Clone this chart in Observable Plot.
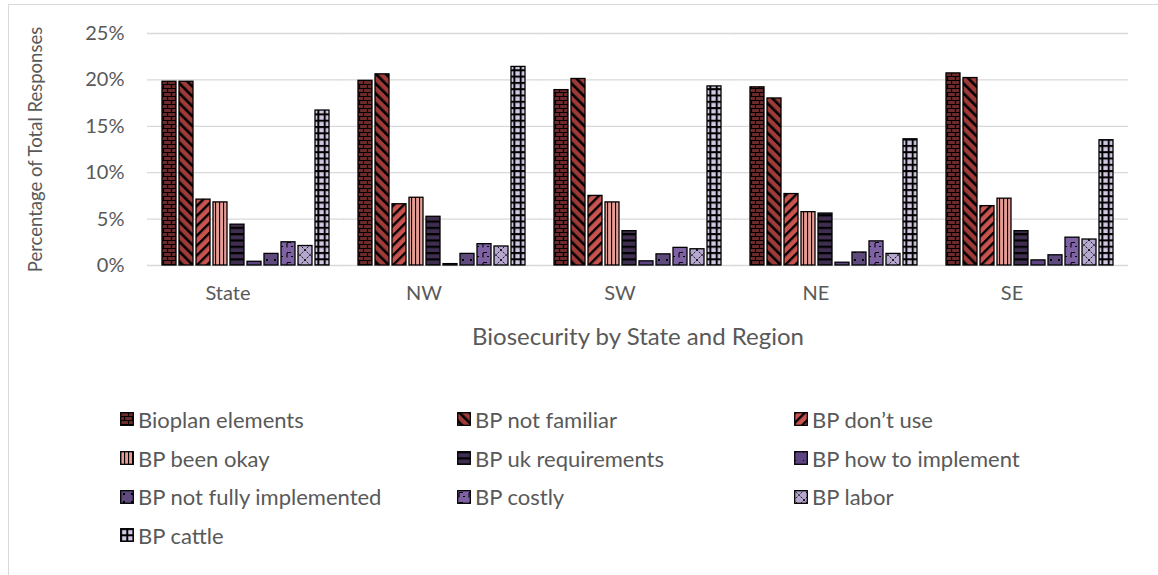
<!DOCTYPE html>
<html><head><meta charset="utf-8">
<script src="https://cdn.jsdelivr.net/npm/d3@7"></script>
<script src="https://cdn.jsdelivr.net/npm/@observablehq/plot@0.6"></script>
<style>
body{margin:0;background:#fff;font-family:Lato,"Open Sans",sans-serif;width:1158px;height:575px;overflow:hidden;position:relative;}
#frame{position:absolute;left:8px;top:4px;width:1160px;height:580px;border-left:1.5px solid #d9d9d9;border-top:1.5px solid #d9d9d9;}
#chart{position:absolute;left:0;top:0;}
#xtitle{position:absolute;top:321px;left:146px;width:984px;text-align:center;font-size:24px;color:#595959;}
#legend{position:absolute;left:120px;top:400px;display:grid;grid-template-columns:337px 337px 337px;grid-auto-rows:38.7px;font-size:22px;color:#595959;}
.item{display:flex;align-items:center;white-space:nowrap;}
.item svg{margin-right:4px;flex:none;}
</style>
</head><body>
<svg width="0" height="0" style="position:absolute">
<defs>
<pattern id="p0" patternUnits="userSpaceOnUse" width="8" height="8">
  <rect width="8" height="8" fill="#6c2a2a"/>
  <path d="M0 0.5H8M0 4.5H8M0.5 0V4.5M4.5 4.5V8" stroke="#000" stroke-width="1.2"/>
</pattern>
<pattern id="p1" patternUnits="userSpaceOnUse" width="7" height="7" patternTransform="rotate(-45)">
  <rect width="7" height="7" fill="#9e3b38"/>
  <rect width="2.6" height="7" fill="#000"/>
</pattern>
<pattern id="p2" patternUnits="userSpaceOnUse" width="7" height="7" patternTransform="rotate(45)">
  <rect width="7" height="7" fill="#c9534f"/>
  <rect width="2.4" height="7" fill="#000"/>
</pattern>
<pattern id="p3" patternUnits="userSpaceOnUse" width="4" height="4">
  <rect width="4" height="4" fill="#e69b95"/>
  <rect width="1.1" height="4" fill="#000"/>
</pattern>
<pattern id="p4" patternUnits="userSpaceOnUse" width="6.3" height="6.3">
  <rect width="6.3" height="6.3" fill="#3f2e4f"/>
  <rect width="6.3" height="2.2" fill="#000"/>
</pattern>
<pattern id="p5" patternUnits="userSpaceOnUse" width="8" height="8">
  <rect width="8" height="8" fill="#5c4580"/>
  <rect x="1" y="1" width="1" height="1" fill="#000"/>
</pattern>
<pattern id="p6" patternUnits="userSpaceOnUse" width="8" height="8">
  <rect width="8" height="8" fill="#5f4a7e"/>
  <rect x="3" y="3" width="2" height="2" fill="#000"/>
</pattern>
<pattern id="p7" patternUnits="userSpaceOnUse" width="10" height="10">
  <rect width="10" height="10" fill="#7e62a3"/>
  <path d="M2 2.5H6M2 3V7.5M6 6.5H8" stroke="#000" stroke-width="1.1"/>
</pattern>
<pattern id="p8" patternUnits="userSpaceOnUse" width="10" height="10">
  <rect width="10" height="10" fill="#b6a7cf"/>
  <path d="M0 0L10 10M10 0L0 10" stroke="#000" stroke-width="0.9" stroke-dasharray="1.5 1"/>
</pattern>
<pattern id="p9" patternUnits="userSpaceOnUse" width="6.3" height="6.3">
  <rect width="6.3" height="6.3" fill="#d2c8e3"/>
  <path d="M0 1H6.3M1 0V6.3" stroke="#000" stroke-width="2"/>
</pattern>
</defs>
</svg>
<div id="frame"></div>
<div id="chart"></div>
<div id="xtitle">Biosecurity by State and Region</div>
<div id="legend"></div>
<script>
const regions = ["State", "NW", "SW", "NE", "SE"];
const series = ["Bioplan elements", "BP not familiar", "BP don’t use", "BP been okay", "BP uk requirements", "BP how to implement", "BP not fully implemented", "BP costly", "BP labor", "BP cattle"];
const stateValues = [19.8, 19.8, 7.1, 6.8, 4.4, 0.4, 1.25, 2.5, 2.1, 16.7];
const nwValues    = [19.9, 20.6, 6.6, 7.3, 5.25, 0.15, 1.25, 2.3, 2.05, 21.4];
const swValues    = [18.9, 20.1, 7.5, 6.8, 3.7, 0.45, 1.2, 1.9, 1.75, 19.3];
const neValues    = [19.2, 18.0, 7.7, 5.75, 5.6, 0.3, 1.4, 2.6, 1.25, 13.6];
const seValues    = [20.7, 20.2, 6.4, 7.2, 3.7, 0.55, 1.1, 3.0, 2.8, 13.5];
const yTicks = [0, 5, 10, 15, 20, 25];
const patternIds = series.map((_, i) => `url(#p${i})`);

const valuesByRegion = [stateValues, nwValues, swValues, neValues, seValues];
const data = [];
regions.forEach((r, ri) => series.forEach((s, si) => data.push({region: r, series: s, value: valuesByRegion[ri][si]})));

const chart = Plot.plot({
  width: 1158,
  height: 310,
  marginTop: 33,
  marginBottom: 45,
  marginLeft: 146,
  marginRight: 28,
  style: {fontFamily: "Lato, 'Open Sans', sans-serif", fontSize: "20px", color: "#595959", background: "transparent", overflow: "visible"},
  fx: {domain: regions, paddingInner: 0.137, paddingOuter: 0.066, label: null},
  x: {domain: series, paddingInner: 0.16, paddingOuter: 0, axis: null},
  y: {domain: [0, 25]},
  color: {domain: series, range: patternIds},
  marks: [
    Plot.ruleY(yTicks, {stroke: "#d9d9d9", strokeWidth: 1.3, insetLeft: -14, insetRight: -14}),
    Plot.barY(data, {fx: "region", x: "series", y: "value", fill: "series", stroke: "#000", strokeWidth: 1.3}),
    Plot.axisY(yTicks, {tickSize: 0, tickPadding: 37, tickFormat: d => d + "%", label: "Percentage of Total Responses", labelAnchor: "center", labelArrow: "none", labelOffset: 133}),
    Plot.axisFx({anchor: "bottom", tickSize: 0, tickPadding: 20, dx: -18, label: null})
  ]
});
document.getElementById("chart").appendChild(chart);
d3.select(chart).selectAll('[aria-label="y-axis label"] text').style("font-size", "18.5px");

const legend = document.getElementById("legend");
series.forEach((s, i) => {
  const item = document.createElement("div");
  item.className = "item";
  item.innerHTML = `<svg width="14" height="14"><rect x="0.7" y="0.7" width="12.6" height="12.6" fill="${patternIds[i]}" stroke="#000" stroke-width="1.3"/></svg><span>${s}</span>`;
  legend.appendChild(item);
});
</script>
</body></html>
